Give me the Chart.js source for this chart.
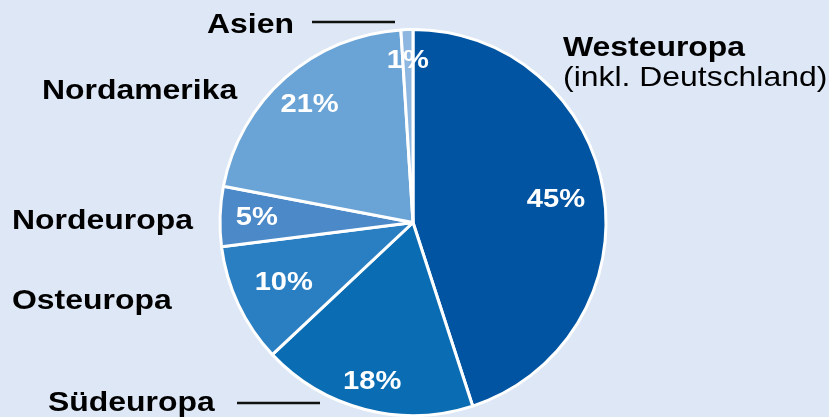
<!DOCTYPE html>
<html>
<head>
<meta charset="utf-8">
<script src="https://cdn.jsdelivr.net/npm/chart.js@4"></script>
<style>
  html, body { margin: 0; padding: 0; background: #dde7f5; }
  #wrap { width: 829px; height: 417px; }
</style>
</head>
<body>
<div id="wrap"><canvas id="myChart" width="829" height="417"></canvas></div>
<script>
// Regionen und Anteile (in %)
const regions = ['Westeuropa', 'Südeuropa', 'Osteuropa', 'Nordeuropa', 'Nordamerika', 'Asien'];
const shares = [45, 18, 10, 5, 21, 1];
const sliceColors = ['#0054a1', '#0a6db4', '#2a7fc2', '#4b89c8', '#6aa3d5', '#8db6e0'];

// Abstand der Prozentwerte vom Mittelpunkt (Anteil am Radius)
const labelRadius = [0.75, 0.85, 0.74, 0.81, 0.81, 0.84];

// Beschriftungen außerhalb des Kreises
const outerLabels = [
    { text: 'Westeuropa', x: 563, y: 56, bold: true },
    { text: '(inkl. Deutschland)', x: 563, y: 86, bold: false },
    { text: 'Asien', x: 207, y: 33, bold: true },
    { text: 'Nordamerika', x: 42, y: 99, bold: true },
    { text: 'Nordeuropa', x: 12, y: 229, bold: true },
    { text: 'Osteuropa', x: 12, y: 309, bold: true },
    { text: 'Südeuropa', x: 48, y: 411, bold: true }
];

// Text etwas breiter zeichnen (wie im Original)
function stretchedText(c, text, x, y, sx) {
    c.save();
    c.translate(x, y);
    c.scale(sx, 1);
    c.fillText(text, 0, 0);
    c.restore();
}

const pieLabels = {
    id: 'pieLabels',
    afterDatasetsDraw(chart) {
        const c = chart.ctx;
        const meta = chart.getDatasetMeta(0);
        c.save();
        c.fillStyle = '#ffffff';
        c.font = 'bold 26px "Liberation Sans", Arial, sans-serif';
        c.textAlign = 'center';
        c.textBaseline = 'middle';
        meta.data.forEach((arc, i) => {
            const mid = (arc.startAngle + arc.endAngle) / 2;
            const r = arc.outerRadius * labelRadius[i];
            stretchedText(c, shares[i] + '%', arc.x + Math.cos(mid) * r, arc.y + Math.sin(mid) * r, 1.12);
        });

        c.fillStyle = '#000000';
        c.textAlign = 'left';
        c.textBaseline = 'alphabetic';
        outerLabels.forEach(l => {
            c.font = (l.bold ? 'bold ' : '') + '28px "Liberation Sans", Arial, sans-serif';
            stretchedText(c, l.text, l.x, l.y, 1.14);
        });

        // Verbindungslinien
        c.strokeStyle = '#111111';
        c.lineWidth = 2.5;
        c.beginPath();
        c.moveTo(312, 22); c.lineTo(395, 22);
        c.moveTo(237, 403); c.lineTo(320, 403);
        c.stroke();
        c.restore();
    }
};

const ctx = document.getElementById('myChart').getContext('2d');
const myChart = new Chart(ctx, {
    type: 'pie',
    data: {
        labels: regions,
        datasets: [{
            data: shares,
            backgroundColor: sliceColors,
            borderColor: '#ffffff',
            borderWidth: 3
        }]
    },
    options: {
        responsive: false,
        animation: false,
        layout: {
            padding: { top: 28, bottom: 0, left: 0, right: 3 }
        },
        plugins: {
            legend: { display: false },
            tooltip: { enabled: false }
        }
    },
    plugins: [pieLabels]
});
</script>
</body>
</html>
